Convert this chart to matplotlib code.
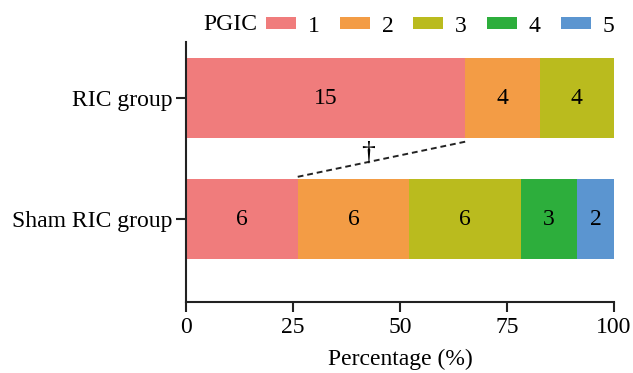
import matplotlib
matplotlib.use("Agg")
import matplotlib.pyplot as plt
from matplotlib.patches import Patch
import numpy as np

plt.rcParams['font.family'] = ['Liberation Serif', 'DejaVu Serif']

groups = ["RIC group", "Sham RIC group"]
pgic_levels = ["1", "2", "3", "4", "5"]
counts = {
    "RIC group": [15, 4, 4, 0, 0],
    "Sham RIC group": [6, 6, 6, 3, 2],
}
colors = ["#F07C7C", "#F39C45", "#BABB1E", "#2DAE3C", "#5B95D0"]
ypos = [1, 0]

fig = plt.figure(figsize=(6.33, 3.73), dpi=100)
ax = fig.add_axes([0.294, 0.19, 0.676, 0.697])

bar_h = 0.66
seg_edges = {}
for g, y in zip(groups, ypos):
    c = np.array(counts[g], dtype=float)
    pct = c / c.sum() * 100
    left = 0.0
    edges = []
    for i, (p, n) in enumerate(zip(pct, counts[g])):
        if n == 0:
            continue
        ax.barh(y, p, left=left, height=bar_h, color=colors[i], edgecolor='none')
        ax.text(left + p / 2, y, str(n), ha='center', va='center', fontsize=17)
        left += p
        edges.append(left)
    seg_edges[g] = edges

# dashed comparison line between the "1" segment ends
x1 = seg_edges["RIC group"][0]
x2 = seg_edges["Sham RIC group"][0]
y1 = 1 - bar_h / 2 - 0.03
y2 = 0 + bar_h / 2 + 0.02
ax.plot([x1, x2], [y1, y2], ls=(0, (3, 2)), color='#222222', lw=1.4)
xm = 42.5
ym = y2 + (y1 - y2) * (xm - x2) / (x1 - x2)
ax.text(xm, ym - 0.03, "†", ha='center', va='bottom', fontsize=20)

ax.set_xlim(0, 100)
ax.set_ylim(-0.686, 1.463)
ax.set_xticks([0, 25, 50, 75, 100])
ax.set_yticks(ypos)
ax.set_yticklabels(groups)
ax.tick_params(axis='both', labelsize=17, width=1.5, length=7, color='#222222')
ax.tick_params(axis='y', pad=3)
for s in ['top', 'right']:
    ax.spines[s].set_visible(False)
for s in ['left', 'bottom']:
    ax.spines[s].set_linewidth(1.5)
    ax.spines[s].set_color('#222222')
ax.set_xlabel("Percentage (%)", fontsize=17, labelpad=8)

handles = [Patch(facecolor=c, edgecolor='none') for c in colors]
fig.text(203 / 633, 1 - 25 / 373, "PGIC", fontsize=17, ha='left', va='center')
fig.legend(handles, pgic_levels, ncol=5, loc='center left',
           bbox_to_anchor=(266 / 633, 1 - 26 / 373), frameon=False,
           fontsize=17, handlelength=1.27, handleheight=0.35, handletextpad=0.5,
           columnspacing=0.85, borderaxespad=0, borderpad=0)

fig.savefig("out.png", dpi=100)
